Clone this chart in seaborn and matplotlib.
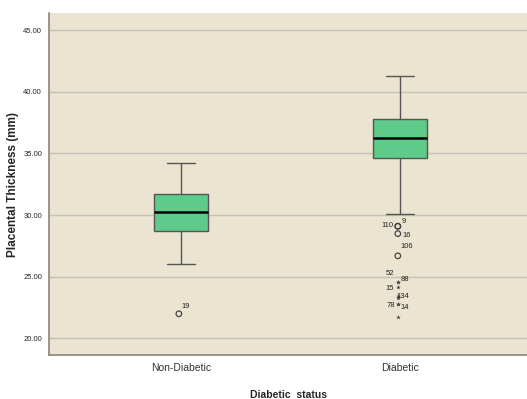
import matplotlib
matplotlib.use("Agg")
import matplotlib.pyplot as plt
import pandas as pd
import seaborn as sns

# five-number summaries (min whisker, Q1, median, Q3, max whisker)
groups = ["Non-Diabetic", "Diabetic"]
nondiab_summary = [26.0, 28.7, 30.25, 31.7, 34.2]
diab_summary = [30.1, 34.6, 36.25, 37.8, 41.3]

# outliers (value, case id, kind: o = mild, * = extreme)
nondiab_out_vals = [22.0]
nondiab_out_ids = ["19"]
nondiab_out_kind = ["o"]

diab_out_vals = [29.1, 29.1, 28.5, 26.7, 24.6, 24.6, 24.15, 23.45, 23.25, 22.8, 22.8, 21.7]
diab_out_ids = ["110", "9", "16", "106", "52", "88", "15", "134", "", "78", "14", ""]
diab_out_kind = ["o", "o", "o", "o", "*", "*", "*", "*", "*", "*", "*", "*"]

yticks = [20, 25, 30, 35, 40, 45]

box_df = pd.DataFrame({
    "group": [groups[0]] * 5 + [groups[1]] * 5,
    "value": nondiab_summary + diab_summary,
})
out_df = pd.DataFrame({
    "group": [groups[0]] * len(nondiab_out_vals) + [groups[1]] * len(diab_out_vals),
    "value": nondiab_out_vals + diab_out_vals,
    "id": nondiab_out_ids + diab_out_ids,
    "kind": nondiab_out_kind + diab_out_kind,
})

bg = "#EAE4D0"
edge = "#555555"
narrow = ["Liberation Sans Narrow", "Liberation Sans", "DejaVu Sans"]
bold = ["Liberation Sans", "DejaVu Sans"]

sns.set_style("white")
fig = plt.figure(figsize=(5.27, 3.99), dpi=100)
ax = fig.add_axes([0.093, 0.110, 0.907, 0.857])
ax.set_facecolor(bg)

sns.boxplot(data=box_df, x="group", y="value", order=groups, whis=(0, 100),
            width=0.25, color="#5FCB8B", saturation=1, showfliers=False,
            linecolor=edge, linewidth=1,
            medianprops=dict(color="black", linewidth=1.8),
            ax=ax, zorder=3)

# outliers
pos = {g: i for i, g in enumerate(groups)}
offsets = {
    "19": (3, 7, "left"), "110": (-4, 1, "right"), "9": (4, 5, "left"),
    "16": (5, -2, "left"), "106": (3, 9, "left"), "52": (-4, 8, "right"),
    "88": (3, 2, "left"), "15": (-4, -1, "right"), "134": (-1, -1, "left"),
    "78": (-3, -2, "right"), "14": (3, -4, "left"),
}
for kind in ["o", "*"]:
    sub = out_df[out_df["kind"] == kind]
    xs = sub["group"].map(pos)
    if kind == "o":
        ax.scatter(xs - 0.01, sub["value"], s=16, marker="o", facecolors="none",
                   edgecolors="#444444", linewidths=0.9, zorder=4)
    else:
        ax.scatter(xs - 0.01, sub["value"], s=12, marker="*", color="#444444",
                   linewidths=0, zorder=4)
for _, r in out_df.iterrows():
    if r["id"] == "":
        continue
    dx, dy, ha = offsets[r["id"]]
    ax.annotate(r["id"], (pos[r["group"]] - 0.01, r["value"]),
                xytext=(dx, dy), textcoords="offset pixels",
                ha=ha, va="center", fontsize=5.5, family=narrow,
                color="#222222", zorder=5)

ax.set_xlim(-0.603, 1.58)
ax.set_ylim(18.65, 46.38)
ax.set_yticks(yticks)
ax.set_yticklabels([f"{t:.2f}" for t in yticks], family=narrow, fontsize=5.5)
ax.set_xticks(range(len(groups)))
ax.set_xticklabels(groups, family=narrow, fontsize=7.5, color="#333333")
ax.yaxis.grid(True, color="#c6c2b8", linewidth=1, zorder=0)
ax.set_axisbelow(True)
ax.tick_params(axis="y", length=3, width=0.8, color="#999999", pad=2)
ax.tick_params(axis="x", length=0, pad=6)

for s in ["top", "right"]:
    ax.spines[s].set_visible(False)
for s in ["left", "bottom"]:
    ax.spines[s].set_color("#8a857a")
    ax.spines[s].set_linewidth(1.2)

ax.set_xlabel("Diabetic  status", family=bold, fontsize=7.5, fontweight="bold",
              labelpad=12)
ax.set_ylabel("Placental Thickness (mm)", family=bold, fontsize=8.5,
              fontweight="bold", labelpad=3)

fig.savefig("out.png", dpi=100)
